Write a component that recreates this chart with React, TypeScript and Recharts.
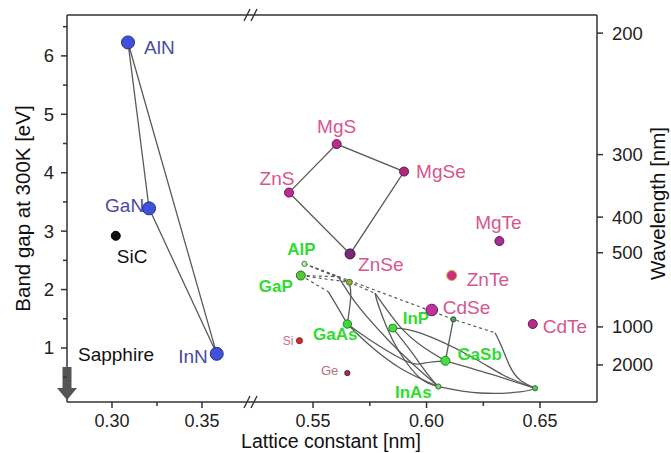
import React from "react";
import { ScatterChart, Scatter, XAxis, YAxis, ReferenceDot } from "recharts";

const FONT = '"Liberation Sans", Arial, Helvetica, sans-serif';
const W = 671;
const H = 453;
const BREAK_X = 252; // where the lattice axis is broken
const AXIS = "#333";
const LINE = "#5a5a5a";

// ---- axes ----
const gapDomain = [0.075, 6.7];
const gapTicks = [0.5, 1, 1.5, 2, 2.5, 3, 3.5, 4, 4.5, 5, 5.5, 6, 6.5];
const wavelengthLabels = [200, 300, 400, 500, 1000, 2000];
const wavelengthGap = [6.39, 4.31, 3.24, 2.63, 1.36, 0.71]; // band gap where each wavelength tick sits
const leftDomain = [0.275, 0.3778];
const leftTicks = [0.3, 0.325, 0.35];
const rightDomain = [0.5231, 0.6751];
const rightTicks = [0.55, 0.575, 0.6, 0.625, 0.65];

// ---- materials: lattice constant [nm], band gap [eV] ----
const nitrideNames = ["AlN", "GaN", "InN"];
const nitrideLattice = [0.3089, 0.3206, 0.3582];
const nitrideGap = [6.23, 3.39, 0.9];

const sicNames = ["SiC"];
const sicLattice = [0.3021];
const sicGap = [2.92];

const sapphireLattice = 0.275; // off scale, drawn as arrow on the axis
const sapphireGap = 0.11;

const iiviNames = ["MgS", "MgSe", "ZnS", "ZnSe", "MgTe", "ZnTe", "CdSe", "CdTe"];
const iiviLattice = [0.5604, 0.5901, 0.5394, 0.5663, 0.6321, 0.6111, 0.6023, 0.6468];
const iiviGap = [4.49, 4.02, 3.66, 2.61, 2.83, 2.24, 1.65, 1.41];

const iiivNames = ["AlP", "GaP", "AlAs", "GaAs", "InP", "AlSb", "GaSb", "InAs", "InSb"];
const iiivLattice = [0.5462, 0.5446, 0.566, 0.5651, 0.5851, 0.6118, 0.6083, 0.6052, 0.6478];
const iiivGap = [2.44, 2.24, 2.125, 1.41, 1.34, 1.49, 0.78, 0.34, 0.31];

const groupIVNames = ["Si", "Ge"];
const groupIVLattice = [0.544, 0.5651];
const groupIVGap = [1.125, 0.57];

// ---- ternary alloy curves [lattice, gap] ----
const gaAsInAs = [[0.5651, 1.41], [0.5738, 1.086], [0.5883, 0.658], [0.6052, 0.34]];
const gaAsGaSb = [[0.5651, 1.41], [0.5751, 1.137], [0.5914, 0.769], [0.5993, 0.743], [0.6083, 0.78]];
const inPInAs = [[0.5851, 1.34], [0.5927, 0.966], [0.6007, 0.538], [0.6052, 0.34]];
const inPInSb = [[0.5851, 1.34], [0.5971, 1.257], [0.6192, 0.863], [0.6337, 0.538], [0.6478, 0.31]];
const gaSbInSb = [[0.6083, 0.78], [0.628, 0.555], [0.6478, 0.31]];
const inAsInSb = [[0.6052, 0.34], [0.6236, 0.229], [0.6412, 0.247], [0.6478, 0.31]];
const alSbGaSb = [[0.6118, 1.49], [0.6083, 0.78]];
const alSbInSb = [[0.6302, 1.26], [0.6331, 1.022], [0.6368, 0.68], [0.6412, 0.452], [0.6478, 0.31]];
const gaPInAs = [[0.5611, 2.22], [0.5672, 1.856], [0.5738, 1.531], [0.5839, 1.103], [0.5949, 0.692], [0.6052, 0.34]];
const alAsInAs = [[0.5773, 1.937], [0.5786, 1.753], [0.5826, 1.342], [0.5883, 0.914], [0.5971, 0.486], [0.6052, 0.34]];
const alAsGaSb = [[0.5773, 1.937], [0.5883, 1.365], [0.5985, 1.017], [0.6083, 0.78]];
const gaPGaAs = [[0.5567, 1.964], [0.561, 1.685], [0.5651, 1.41]];
const alAsGaAs = [[0.566, 2.125], [0.5666, 1.873], [0.5651, 1.41]];
// indirect branches (dashed)
const alPAlSbInd = [[0.5462, 2.44], [0.6118, 1.49], [0.6302, 1.26]];
const gaPInd1 = [[0.5446, 2.24], [0.5611, 2.22]];
const alPInd1 = [[0.5462, 2.44], [0.5611, 2.22]];
const gaPAlAsInd = [[0.5446, 2.24], [0.566, 2.125], [0.5773, 1.937]];
const alPAlAsInd = [[0.5462, 2.44], [0.566, 2.125]];
const gaPInd2 = [[0.5446, 2.24], [0.5567, 1.964]];

const solidCurves = [gaAsInAs, gaAsGaSb, inPInAs, inPInSb, gaSbInSb, inAsInSb, alSbGaSb, alSbInSb, gaPInAs, alAsInAs, alAsGaSb, gaPGaAs, alAsGaAs];
const dashedCurves = [alPAlSbInd, gaPInd1, alPInd1, gaPAlAsInd, alPAlAsInd, gaPInd2];

const toPoints = (names: string[], lat: number[], gap: number[]) =>
  names.map((name, i) => ({ name, a: lat[i], E: gap[i] }));
const toCurve = (pts: number[][]) => pts.map(([a, E]) => ({ a, E }));

const nitrides = toPoints(nitrideNames, nitrideLattice, nitrideGap);
const sic = toPoints(sicNames, sicLattice, sicGap);
const iivi = toPoints(iiviNames, iiviLattice, iiviGap);
const iiiv = toPoints(iiivNames, iiivLattice, iiivGap);
const groupIV = toPoints(groupIVNames, groupIVLattice, groupIVGap);
const byName = (arr: any[], n: string) => arr.find((p) => p.name === n);
const nitrideLoop = ["AlN", "GaN", "InN", "AlN"].map((n) => byName(nitrides, n));
const iiviLoop = ["ZnS", "MgS", "MgSe", "ZnSe", "ZnS"].map((n) => byName(iivi, n));

// ---- marker / label styles ----
const BLUE = { fill: "#3f51d9", stroke: "#252f8a" };
const PINK = { fill: "#bf2b8c", stroke: "#5c1a4c" };
const pointStyle: Record<string, { r: number; fill: string; stroke: string }> = {
  AlN: { r: 6.5, ...BLUE },
  GaN: { r: 6.5, ...BLUE },
  InN: { r: 6.5, ...BLUE },
  SiC: { r: 4.5, fill: "#111", stroke: "#000" },
  MgS: { r: 4.5, ...PINK },
  MgSe: { r: 4.5, fill: "#b02480", stroke: "#5c1a4c" },
  ZnS: { r: 4.5, ...PINK },
  ZnSe: { r: 5, fill: "#7b2a78", stroke: "#3e1040" },
  MgTe: { r: 4.5, fill: "#a52d94", stroke: "#5c1a4c" },
  ZnTe: { r: 5, fill: "#c8307a", stroke: "#e0a050" },
  CdSe: { r: 5.8, fill: "#c032a0", stroke: "#6a1a5a" },
  CdTe: { r: 4.5, fill: "#b8298e", stroke: "#5c1a4c" },
  AlP: { r: 2.6, fill: "#b8e8b8", stroke: "#3a8a3a" },
  GaP: { r: 4.5, fill: "#55c83a", stroke: "#2d6a1e" },
  AlAs: { r: 3, fill: "#8ab040", stroke: "#4a6a20" },
  GaAs: { r: 4.2, fill: "#3ad83a", stroke: "#1f8a1f" },
  InP: { r: 4, fill: "#44dd44", stroke: "#1f8a1f" },
  AlSb: { r: 2.6, fill: "#5a9a5a", stroke: "#2a5a2a" },
  GaSb: { r: 4.5, fill: "#44dd44", stroke: "#1f8a1f" },
  InAs: { r: 2.6, fill: "#7ad07a", stroke: "#2a7a2a" },
  InSb: { r: 2.6, fill: "#60c060", stroke: "#2a7a2a" },
  Si: { r: 3, fill: "#d42a2a", stroke: "#8a1a1a" },
  Ge: { r: 2.6, fill: "#a03050", stroke: "#601a30" },
};

type Lbl = { dx: number; dy: number; anchor: "start" | "middle" | "end"; color: string; size: number; bold?: boolean };
const NB = "#4a4aa6";
const PK = "#d8558f";
const GR = "#30dc30";
const labelStyle: Record<string, Lbl> = {
  AlN: { dx: 16, dy: 5, anchor: "start", color: NB, size: 19 },
  GaN: { dx: -44, dy: -3, anchor: "start", color: NB, size: 19 },
  InN: { dx: -9, dy: 3, anchor: "end", color: NB, size: 19 },
  SiC: { dx: 1, dy: 21, anchor: "start", color: "#111", size: 19 },
  MgS: { dx: 0, dy: -18, anchor: "middle", color: PK, size: 19 },
  MgSe: { dx: 12, dy: 0, anchor: "start", color: PK, size: 19 },
  ZnS: { dx: -12, dy: -14, anchor: "middle", color: PK, size: 19 },
  ZnSe: { dx: 8, dy: 11, anchor: "start", color: PK, size: 19 },
  MgTe: { dx: -1, dy: -19, anchor: "middle", color: PK, size: 19 },
  ZnTe: { dx: 15, dy: 4, anchor: "start", color: PK, size: 19 },
  CdSe: { dx: 11, dy: -2, anchor: "start", color: PK, size: 19 },
  CdTe: { dx: 10, dy: 2, anchor: "start", color: PK, size: 19 },
  AlP: { dx: -3, dy: -14, anchor: "middle", color: GR, size: 17, bold: true },
  GaP: { dx: -8, dy: 11, anchor: "end", color: GR, size: 17, bold: true },
  GaAs: { dx: -12, dy: 10, anchor: "middle", color: GR, size: 17, bold: true },
  InP: { dx: 10, dy: -10, anchor: "start", color: GR, size: 17, bold: true },
  GaSb: { dx: 12, dy: -6, anchor: "start", color: GR, size: 17, bold: true },
  InAs: { dx: -25, dy: 6, anchor: "middle", color: GR, size: 17, bold: true },
  Si: { dx: -6, dy: 0, anchor: "end", color: "#c07080", size: 12 },
  Ge: { dx: -9, dy: -3, anchor: "end", color: "#b07080", size: 13 },
};

const Marker = (props: any) => {
  const { cx, cy, payload } = props;
  const p = pointStyle[payload.name];
  const l = labelStyle[payload.name];
  return (
    <g>
      {l && (
        <text
          x={cx + l.dx}
          y={cy + l.dy}
          textAnchor={l.anchor}
          dominantBaseline="central"
          fontSize={l.size}
          fontWeight={l.bold ? "bold" : "normal"}
          fill={l.color}
          fontFamily={FONT}
        >
          {payload.name}
        </text>
      )}
      <circle cx={cx} cy={cy} r={p.r} fill={p.fill} stroke={p.stroke} strokeWidth={1} />
    </g>
  );
};

const NoDot = () => <g />;

const isMajor = (v: number) => Math.abs(v * 20 - Math.round(v * 20)) < 1e-6;

const BottomTick = (props: any) => {
  const { x, y, payload } = props;
  const major = isMajor(payload.value);
  return (
    <g>
      <line x1={x} x2={x} y1={y} y2={y + (major ? 6 : 4)} stroke={AXIS} strokeWidth={1.5} />
      {major && (
        <text x={x} y={y + 25} textAnchor="middle" fontSize={18} fill="#222" fontFamily={FONT}>
          {payload.value.toFixed(2)}
        </text>
      )}
    </g>
  );
};

const TopTick = (props: any) => {
  const { x, y, payload } = props;
  const major = isMajor(payload.value);
  return <line x1={x} x2={x} y1={y} y2={y - (major ? 7 : 4)} stroke={AXIS} strokeWidth={1.5} />;
};

const LeftTick = (props: any) => {
  const { x, y, payload } = props;
  const major = Number.isInteger(payload.value);
  return (
    <g>
      <line x1={x} x2={x - (major ? 6 : 4)} y1={y} y2={y} stroke={AXIS} strokeWidth={1.5} />
      {major && (
        <text x={x - 13} y={y + 6.5} textAnchor="end" fontSize={18.5} fill="#222" fontFamily={FONT}>
          {payload.value}
        </text>
      )}
    </g>
  );
};

const RightTick = (props: any) => {
  const { x, y, index } = props;
  return (
    <g>
      <line x1={x} x2={x + 6} y1={y} y2={y} stroke={AXIS} strokeWidth={1.5} />
      <text x={x + 15} y={y + 6.5} textAnchor="start" fontSize={18.5} fill="#222" fontFamily={FONT}>
        {wavelengthLabels[index]}
      </text>
    </g>
  );
};

const BreakMark = (props: any) => {
  const { cx, cy } = props;
  return (
    <g stroke={AXIS} strokeWidth={1.4}>
      <line x1={cx - 8} y1={cy + 6} x2={cx - 2} y2={cy - 6} />
      <line x1={cx - 1} y1={cy + 6} x2={cx + 5} y2={cy - 6} />
    </g>
  );
};

const SapphireArrow = (props: any) => {
  const { cx, cy } = props;
  return (
    <g>
      <rect x={cx - 4.5} y={cy - 33} width={9} height={22} fill="#555" />
      <polygon points={`${cx - 10},${cy - 12} ${cx + 10},${cy - 12} ${cx},${cy}`} fill="#555" />
      <text x={cx + 11} y={cy - 45} dominantBaseline="central" fontSize={19} fill="#111" fontFamily={FONT}>
        Sapphire
      </text>
    </g>
  );
};

const axisLine = { stroke: AXIS, strokeWidth: 1.5 };
const lineStyle = { stroke: LINE, strokeWidth: 1.3 };
const dashStyle = { stroke: LINE, strokeWidth: 1.2, strokeDasharray: "3 3" };

export default function App() {
  return (
    <div style={{ position: "absolute", left: 0, top: 0, width: W, height: H, background: "#fff" }}>
      {/* left part of the broken axis: nitrides */}
      <div style={{ position: "absolute", left: 0, top: 0 }}>
        <ScatterChart width={W} height={H} margin={{ top: 0, right: W - BREAK_X, bottom: 0, left: 0 }}>
          <XAxis xAxisId="b" type="number" dataKey="a" domain={leftDomain} ticks={leftTicks} interval={0}
            height={51} tickSize={0} tickMargin={0} tickLine={false} axisLine={axisLine} tick={BottomTick} />
          <XAxis xAxisId="t" orientation="top" type="number" dataKey="a" domain={leftDomain} ticks={leftTicks}
            interval={0} height={15} tickSize={0} tickMargin={0} tickLine={false} axisLine={axisLine} tick={TopTick} />
          <YAxis yAxisId="l" type="number" dataKey="E" domain={gapDomain} ticks={gapTicks} interval={0}
            width={67} tickSize={0} tickMargin={0} tickLine={false} axisLine={axisLine} tick={LeftTick}
            label={(p: any) => {
              const vb = p.viewBox || { x: 0, y: 15, width: 67, height: 387 };
              const x = vb.x + 29.5;
              const y = vb.y + vb.height / 2;
              return (
                <text x={x} y={y} transform={`rotate(-90 ${x} ${y})`} textAnchor="middle" fontSize={20.5}
                  fill="#111" fontFamily={FONT}>
                  Band gap at 300K [eV]
                </text>
              );
            }} />
          <Scatter xAxisId="b" yAxisId="l" data={nitrideLoop} line={lineStyle} shape={NoDot} isAnimationActive={false} />
          <Scatter xAxisId="b" yAxisId="l" data={nitrides} shape={Marker} isAnimationActive={false} />
          <Scatter xAxisId="b" yAxisId="l" data={sic} shape={Marker} isAnimationActive={false} />
          <ReferenceDot xAxisId="b" yAxisId="l" x={sapphireLattice} y={sapphireGap} shape={SapphireArrow} />
        </ScatterChart>
      </div>

      {/* right part: II-VI and III-V compounds */}
      <div style={{ position: "absolute", left: 0, top: 0 }}>
        <ScatterChart width={W} height={H} margin={{ top: 0, right: 0, bottom: 0, left: BREAK_X }}>
          <XAxis xAxisId="b" type="number" dataKey="a" domain={rightDomain} ticks={rightTicks} interval={0}
            height={51} tickSize={0} tickMargin={0} tickLine={false} axisLine={axisLine} tick={BottomTick}
            label={(p: any) => {
              const vb = p.viewBox || { x: BREAK_X, y: 402, width: 345, height: 51 };
              return (
                <text x={vb.x + 79} y={vb.y + 46} textAnchor="middle" fontSize={19.5} fill="#111" fontFamily={FONT}>
                  Lattice constant [nm]
                </text>
              );
            }} />
          <XAxis xAxisId="t" orientation="top" type="number" dataKey="a" domain={rightDomain} ticks={rightTicks}
            interval={0} height={15} tickSize={0} tickMargin={0} tickLine={false} axisLine={axisLine} tick={TopTick} />
          <YAxis yAxisId="r" orientation="right" type="number" dataKey="E" domain={gapDomain} ticks={wavelengthGap}
            interval={0} width={74} tickSize={0} tickMargin={0} tickLine={false} axisLine={axisLine} tick={RightTick}
            label={(p: any) => {
              const vb = p.viewBox || { x: 597, y: 15, width: 74, height: 387 };
              const x = vb.x + 68;
              const y = vb.y + vb.height / 2 - 5;
              return (
                <text x={x} y={y} transform={`rotate(-90 ${x} ${y})`} textAnchor="middle" fontSize={20.5}
                  fill="#111" fontFamily={FONT}>
                  Wavelength [nm]
                </text>
              );
            }} />
          <Scatter xAxisId="b" yAxisId="r" data={iiviLoop} line={lineStyle} shape={NoDot} isAnimationActive={false} />
          {solidCurves.map((c, i) => (
            <Scatter key={`s${i}`} xAxisId="b" yAxisId="r" data={toCurve(c)} line={lineStyle}
              lineJointType={c.length > 2 ? "natural" : "linear"} shape={NoDot} isAnimationActive={false} />
          ))}
          {dashedCurves.map((c, i) => (
            <Scatter key={`d${i}`} xAxisId="b" yAxisId="r" data={toCurve(c)} line={dashStyle} shape={NoDot}
              isAnimationActive={false} />
          ))}
          <Scatter xAxisId="b" yAxisId="r" data={groupIV} shape={Marker} isAnimationActive={false} />
          <Scatter xAxisId="b" yAxisId="r" data={iiiv} shape={Marker} isAnimationActive={false} />
          <Scatter xAxisId="b" yAxisId="r" data={iivi} shape={Marker} isAnimationActive={false} />
          <ReferenceDot xAxisId="b" yAxisId="r" x={rightDomain[0]} y={gapDomain[0]} shape={BreakMark} />
          <ReferenceDot xAxisId="b" yAxisId="r" x={rightDomain[0]} y={gapDomain[1]} shape={BreakMark} />
        </ScatterChart>
      </div>
    </div>
  );
}
